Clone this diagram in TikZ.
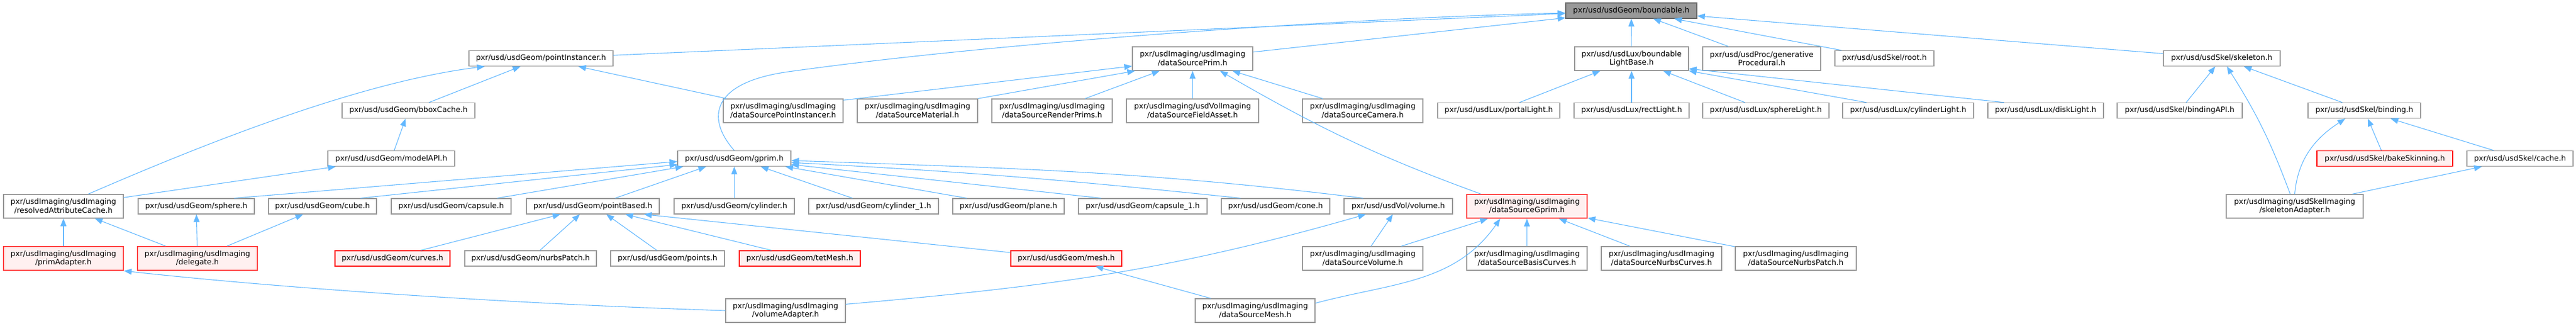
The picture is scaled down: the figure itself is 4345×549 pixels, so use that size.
\documentclass[tikz,border=0pt]{standalone}
\usepackage{fontspec}
\setmainfont{DejaVu Sans}
\usetikzlibrary{arrows.meta}
\definecolor{edgeblue}{RGB}{99,184,255}
\definecolor{boxgray}{RGB}{153,153,153}
\definecolor{focusfill}{RGB}{153,153,153}
\definecolor{focusline}{RGB}{102,102,102}
\definecolor{truncfill}{RGB}{255,240,240}
\definecolor{truncline}{RGB}{255,0,0}
\definecolor{truncwide}{RGB}{255,68,68}
\begin{document}
\begin{tikzpicture}[x=1pt,y=1pt,
  file/.style={draw=boxgray, fill=white, line width=1.3pt, inner sep=0pt, minimum height=26pt, align=center, font=\fontsize{12.7pt}{14.5pt}\selectfont},
  file2/.style={file, minimum height=40pt},
  trunc/.style={draw=truncline, fill=truncfill},
  trunc2/.style={draw=truncwide, fill=truncfill, line width=2pt},
  focus/.style={draw=focusline, fill=focusfill},
  dep/.style={draw=edgeblue, line width=1.1pt, -{Triangle[length=13pt,width=10pt]}}]
\useasboundingbox (0,0) rectangle (4345,549);
\node[file, focus, minimum width=221pt] (boundable) at (2751.5,531){pxr/usd/usdGeom/boundable.h};
\node[file, minimum width=243pt] (pointInstancer) at (912.5,450.5){pxr/usd/usdGeom/pointInstancer.h};
\node[file2, minimum width=203pt] (dataSourcePrim) at (2011.5,450){pxr/usdImaging/usdImaging\\/dataSourcePrim.h};
\node[file2, minimum width=192pt] (lightBase) at (2752,450){pxr/usd/usdLux/boundable\\LightBase.h};
\node[file2, minimum width=199pt] (generativeProc) at (2971.5,450){pxr/usd/usdProc/generative\\Procedural.h};
\node[file, minimum width=167pt] (skelRoot) at (3178.5,450.5){pxr/usd/usdSkel/root.h};
\node[file, minimum width=197pt] (skeleton) at (3747.5,450.5){pxr/usd/usdSkel/skeleton.h};
\node[file, minimum width=224pt] (bboxCache) at (689,362.5){pxr/usd/usdGeom/bboxCache.h};
\node[file2, minimum width=202pt] (dsPointInstancer) at (1321,362){pxr/usdImaging/usdImaging\\/dataSourcePointInstancer.h};
\node[file2, minimum width=203pt] (dsMaterial) at (1547.5,362){pxr/usdImaging/usdImaging\\/dataSourceMaterial.h};
\node[file2, minimum width=203pt] (dsRenderPrims) at (1774.5,362){pxr/usdImaging/usdImaging\\/dataSourceRenderPrims.h};
\node[file2, minimum width=223pt] (dsFieldAsset) at (2011.5,362){pxr/usdImaging/usdVolImaging\\/dataSourceFieldAsset.h};
\node[file2, minimum width=203pt] (dsCamera) at (2298.5,362){pxr/usdImaging/usdImaging\\/dataSourceCamera.h};
\node[file, minimum width=206pt] (portalLight) at (2528,362.5){pxr/usd/usdLux/portalLight.h};
\node[file, minimum width=194pt] (rectLight) at (2752,362.5){pxr/usd/usdLux/rectLight.h};
\node[file, minimum width=213pt] (sphereLight) at (2978.5,362.5){pxr/usd/usdLux/sphereLight.h};
\node[file, minimum width=221pt] (cylinderLight) at (3218.5,362.5){pxr/usd/usdLux/cylinderLight.h};
\node[file, minimum width=195pt] (diskLight) at (3450.5,362.5){pxr/usd/usdLux/diskLight.h};
\node[file, minimum width=211pt] (bindingAPI) at (3676.5,362.5){pxr/usd/usdSkel/bindingAPI.h};
\node[file, minimum width=190pt] (binding) at (3988,362.5){pxr/usd/usdSkel/binding.h};
\node[file, minimum width=214pt] (modelAPI) at (660,281.5){pxr/usd/usdGeom/modelAPI.h};
\node[file, minimum width=191pt] (gprim) at (1238.5,281.5){pxr/usd/usdGeom/gprim.h};
\node[file, trunc, minimum width=229pt] (bakeSkinning) at (4022.5,281.5){pxr/usd/usdSkel/bakeSkinning.h};
\node[file, minimum width=179pt] (skelCache) at (4250.5,281.5){pxr/usd/usdSkel/cache.h};
\node[file2, minimum width=202pt] (attrCache) at (107,201){pxr/usdImaging/usdImaging\\/resolvedAttributeCache.h};
\node[file, minimum width=196pt] (sphere) at (331,201){pxr/usd/usdGeom/sphere.h};
\node[file, minimum width=182pt] (cube) at (544,201){pxr/usd/usdGeom/cube.h};
\node[file, minimum width=202pt] (capsule) at (761,201){pxr/usd/usdGeom/capsule.h};
\node[file, minimum width=224pt] (pointBased) at (1000,201){pxr/usd/usdGeom/pointBased.h};
\node[file, minimum width=203pt] (cylinder) at (1238.5,201){pxr/usd/usdGeom/cylinder.h};
\node[file, minimum width=219pt] (cylinder1) at (1473.5,201){pxr/usd/usdGeom/cylinder\_1.h};
\node[file, minimum width=188pt] (plane) at (1701,201){pxr/usd/usdGeom/plane.h};
\node[file, minimum width=217pt] (capsule1) at (1927.5,201){pxr/usd/usdGeom/capsule\_1.h};
\node[file, minimum width=183pt] (cone) at (2151.5,201){pxr/usd/usdGeom/cone.h};
\node[file, minimum width=183pt] (volume) at (2358.5,201){pxr/usd/usdVol/volume.h};
\node[file2, trunc2, minimum width=203pt] (dsGprim) at (2575.5,201){pxr/usdImaging/usdImaging\\/dataSourceGprim.h};
\node[file2, minimum width=231pt] (skelAdapter) at (3870.5,201){pxr/usdImaging/usdSkelImaging\\/skeletonAdapter.h};
\node[file2, trunc2, minimum width=202pt] (primAdapter) at (107,113){pxr/usdImaging/usdImaging\\/primAdapter.h};
\node[file2, trunc2, minimum width=202pt] (delegate) at (333,113){pxr/usdImaging/usdImaging\\/delegate.h};
\node[file, trunc, minimum width=194pt] (curves) at (662,113){pxr/usd/usdGeom/curves.h};
\node[file, minimum width=222pt] (nurbsPatch) at (895,113){pxr/usd/usdGeom/nurbsPatch.h};
\node[file, minimum width=192pt] (points) at (1126,113){pxr/usd/usdGeom/points.h};
\node[file, trunc, minimum width=204pt] (tetMesh) at (1349,113){pxr/usd/usdGeom/tetMesh.h};
\node[file, trunc, minimum width=187pt] (mesh) at (1798.5,113){pxr/usd/usdGeom/mesh.h};
\node[file2, minimum width=203pt] (dsVolume) at (2298.5,113){pxr/usdImaging/usdImaging\\/dataSourceVolume.h};
\node[file2, minimum width=203pt] (dsBasisCurves) at (2575.5,113){pxr/usdImaging/usdImaging\\/dataSourceBasisCurves.h};
\node[file2, minimum width=203pt] (dsNurbsCurves) at (2802.5,113){pxr/usdImaging/usdImaging\\/dataSourceNurbsCurves.h};
\node[file2, minimum width=204pt] (dsNurbsPatch) at (3029,113){pxr/usdImaging/usdImaging\\/dataSourceNurbsPatch.h};
\node[file2, minimum width=202pt] (volumeAdapter) at (1325,25){pxr/usdImaging/usdImaging\\/volumeAdapter.h};
\node[file2, minimum width=202pt] (dsMesh) at (2117,25){pxr/usdImaging/usdImaging\\/dataSourceMesh.h};

\draw[dep] (pointInstancer) -- (boundable);
\draw[dep] (gprim.north) .. controls (1190,350) and (1200,410) .. (1330,428) .. controls (1700,480) and (2300,520) .. ([yshift=-4pt]boundable.west);
\draw[dep] (dataSourcePrim) -- (boundable);
\draw[dep] (lightBase) -- (boundable);
\draw[dep] (generativeProc) -- (boundable);
\draw[dep] (skelRoot) -- (boundable);
\draw[dep] (skeleton) -- (boundable);

\draw[dep] ([xshift=42pt]attrCache.north) .. controls (330,300) and (600,410) .. ([xshift=-95pt]pointInstancer.south);
\draw[dep] (bboxCache) -- (pointInstancer);
\draw[dep] (dsPointInstancer) -- (pointInstancer);
\draw[dep] (modelAPI) -- (bboxCache);
\draw[dep] (attrCache) -- (modelAPI);
\draw[dep] (primAdapter) -- (attrCache);
\draw[dep] (delegate) -- (attrCache);
\draw[dep] (delegate) -- (sphere);
\draw[dep] (delegate) -- (cube);
\draw[dep] (volumeAdapter.west) .. controls (900,35) and (500,60) .. (primAdapter.south east);

\draw[dep] (sphere.12) -- (gprim.183);
\draw[dep] (cube.12) -- (gprim.186);
\draw[dep] (capsule.10) -- (gprim.189);
\draw[dep] (pointBased.20) -- (gprim.196);
\draw[dep] (cylinder) -- (gprim);
\draw[dep] (cylinder1.159) -- (gprim.343);
\draw[dep] (plane.169) -- (gprim.351);
\draw[dep] (capsule1.169) -- (gprim.354);
\draw[dep] (cone.167) to[out=174,in=-3] (gprim.356);
\draw[dep] (volume.167) to[out=173,in=-2] (gprim.358);

\draw[dep] (curves.16) -- (pointBased.194);
\draw[dep] (nurbsPatch.41) -- (pointBased.212);
\draw[dep] (points.143) -- (pointBased.329);
\draw[dep] (tetMesh.164) -- (pointBased.346);
\draw[dep] (mesh.174) -- (pointBased.351);
\draw[dep] (dsMesh) -- (mesh);
\draw[dep] (dsVolume) -- (volume);
\draw[dep] (volumeAdapter.6) to[out=5,in=196] (volume.194);

\draw[dep] (dsPointInstancer.10) -- (dataSourcePrim.187);
\draw[dep] (dsMaterial.north east) -- (dataSourcePrim.192);
\draw[dep] (dsRenderPrims) -- (dataSourcePrim);
\draw[dep] (dsFieldAsset) -- (dataSourcePrim);
\draw[dep] (dsCamera) -- (dataSourcePrim);
\draw[dep] (dsGprim.165) to[out=160,in=-30] (dataSourcePrim.336);

\draw[dep] (portalLight) -- (lightBase);
\draw[dep] (rectLight) -- (lightBase);
\draw[dep] (sphereLight) -- (lightBase);
\draw[dep] (cylinderLight.169) -- (lightBase.348);
\draw[dep] (diskLight.169) -- (lightBase.350);

\draw[dep] (dsVolume) -- (dsGprim);
\draw[dep] (dsMesh.7) to[out=15,in=235] (dsGprim.205);
\draw[dep] (dsBasisCurves) -- (dsGprim);
\draw[dep] (dsNurbsCurves) -- (dsGprim);
\draw[dep] (dsNurbsPatch) -- (dsGprim);

\draw[dep] (bindingAPI) -- (skeleton);
\draw[dep] (skelAdapter) to[bend right=6] (skeleton);
\draw[dep] (binding) -- (skeleton);
\draw[dep] (skelAdapter.north) to[out=85,in=213] (binding.203);
\draw[dep] (bakeSkinning) -- (binding);
\draw[dep] (skelCache) -- (binding);
\draw[dep] (skelAdapter) -- (skelCache);
\end{tikzpicture}
\end{document}
